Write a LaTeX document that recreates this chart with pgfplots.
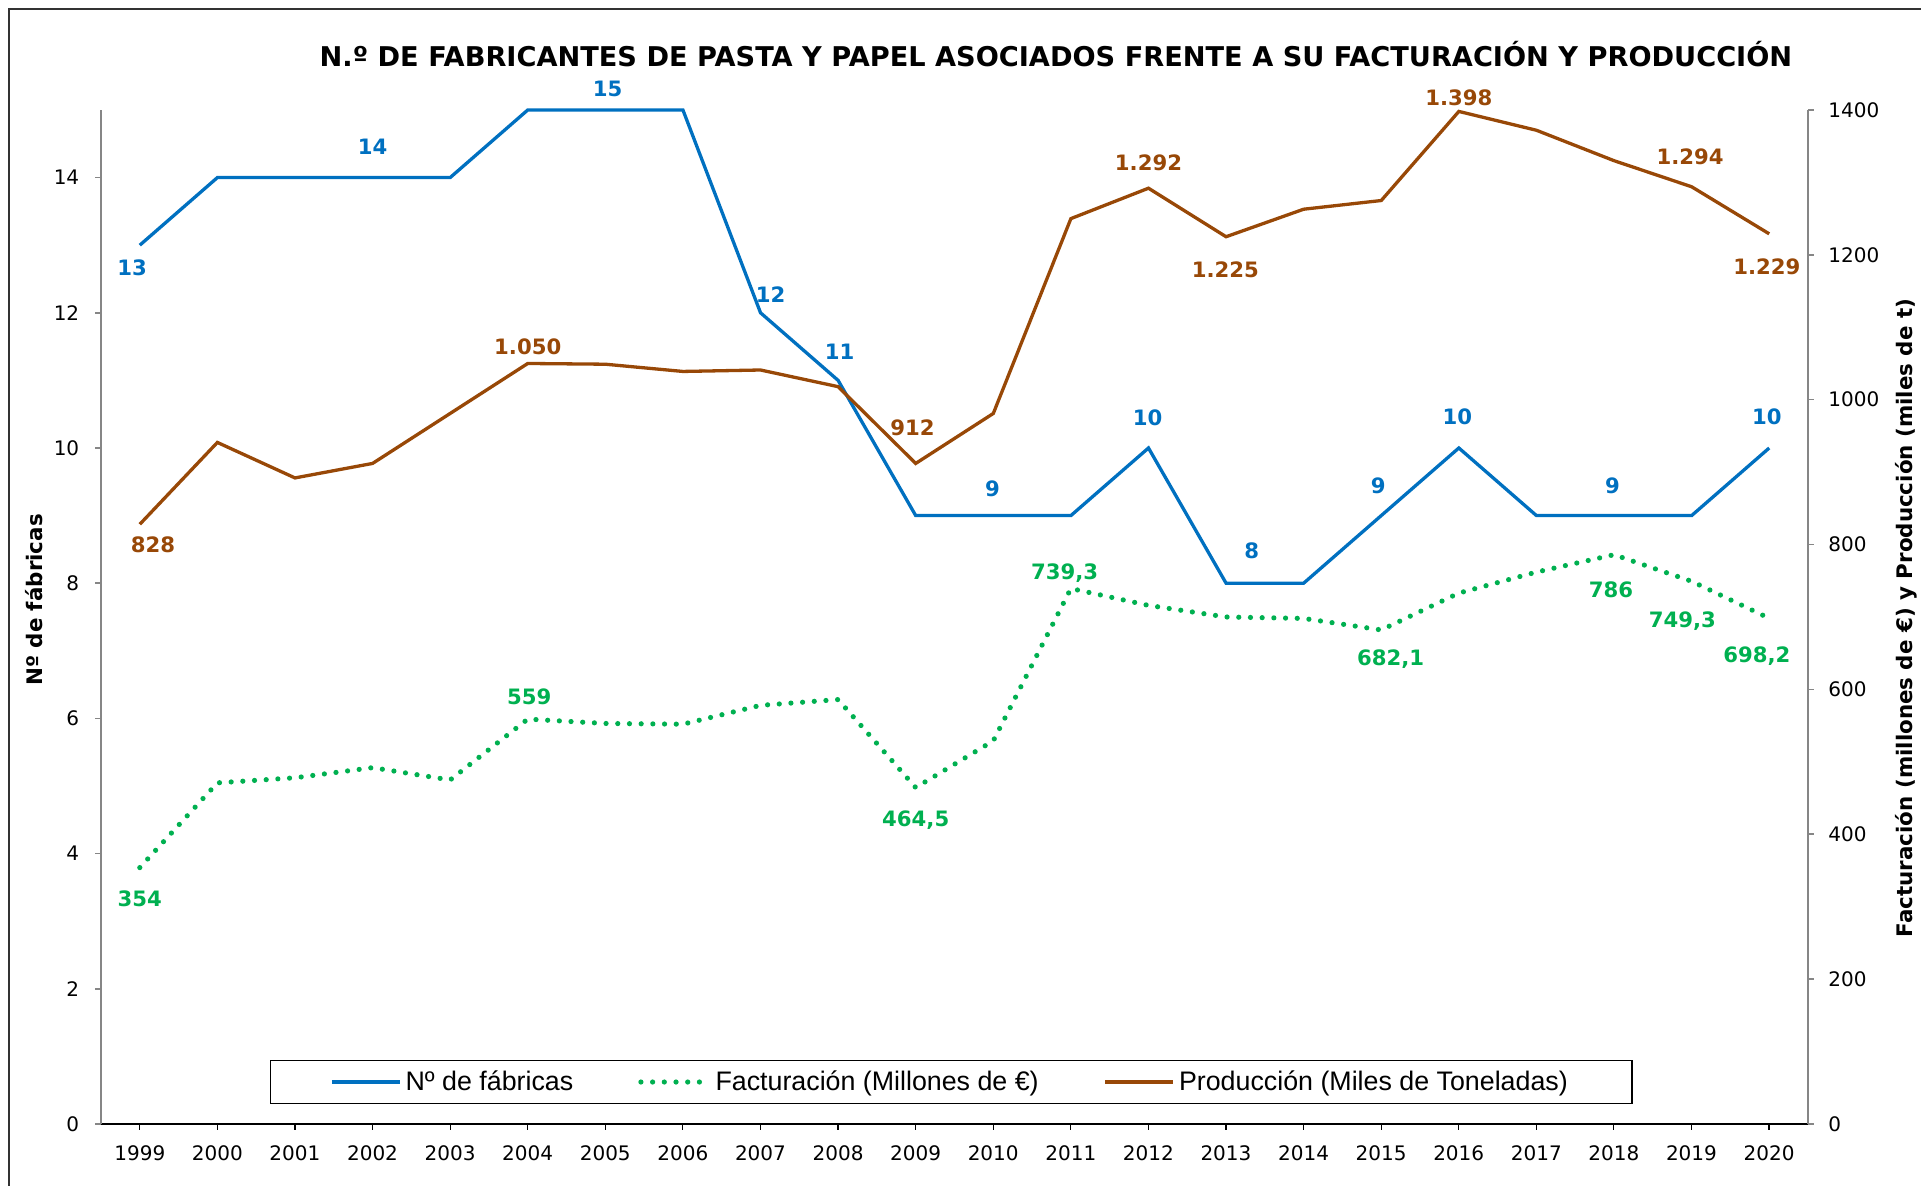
\documentclass[border=0pt]{standalone}
\usepackage{fontspec}
\setmainfont{DejaVu Sans}
\newfontfamily\legfont{Liberation Sans}
\usepackage{pgfplots}
\pgfplotsset{compat=1.18}
\definecolor{cblue}{HTML}{0070C0}
\definecolor{cbrown}{HTML}{984807}
\definecolor{cgreen}{HTML}{00B050}
\definecolor{axgray}{HTML}{868686}
\tikzset{
  fab/.style={cblue, line width=1.65pt},
  fact/.style={cgreen, line width=2.6pt, line cap=round, dash pattern=on 0pt off 5.85pt},
  prod/.style={cbrown, line width=1.65pt},
  dlab/.style={font=\fontsize{10.6}{12}\selectfont\bfseries, text depth=0pt, text height=7.7pt, inner sep=0pt, anchor=center},
}
\pgfplotsset{
  base/.style={
    scale only axis, width=853.5pt, height=507pt,
    xmin=1998.5, xmax=2020.5, ymin=0, clip=false,
    tick align=outside, major tick length=3pt,
    /pgf/number format/.cd, 1000 sep={}, assume math mode=true, /pgfplots/.cd,
    tick label style={font=\fontsize{10}{12}\selectfont, inner sep=0pt},
  },
}
\begin{document}
\begin{tikzpicture}
\begin{axis}[base,
  ymax=15,
  axis x line*=bottom, axis y line*=left,
  x axis line style={black, line width=0.75pt},
  y axis line style={axgray, line width=0.9pt},
  xtick={1999,...,2020}, ytick={0,2,...,14},
  xtick style={black, line width=0.6pt}, ytick style={axgray, line width=0.8pt},
  xticklabel style={yshift=-7.5pt},
  yticklabel style={xshift=-7.7pt},
  ylabel={Nº de fábricas},
  ylabel style={at={(axis description cs:-0.0392,0.5168)}, anchor=center, font=\fontsize{10.7}{12}\selectfont\bfseries},
]
\addplot[fab] coordinates {
(1999,13) (2000,14) (2001,14) (2002,14) (2003,14) (2004,15) (2005,15) (2006,15)
(2007,12) (2008,11) (2009,9) (2010,9) (2011,9) (2012,10) (2013,8) (2014,8)
(2015,9) (2016,10) (2017,9) (2018,9) (2019,9) (2020,10)
};
\begin{scope}[every node/.style={dlab, text=cblue}]
\node at (axis cs:1998.9,12.66) {13};
\node at (axis cs:2002,14.46) {14};
\node at (axis cs:2005.03,15.32) {15};
\node at (axis cs:2007.13,12.26) {12};
\node at (axis cs:2008.02,11.42) {11};
\node at (axis cs:2009.99,9.4) {9};
\node at (axis cs:2011.99,10.45) {10};
\node at (axis cs:2013.33,8.48) {8};
\node at (axis cs:2014.96,9.44) {9};
\node at (axis cs:2015.98,10.46) {10};
\node at (axis cs:2017.98,9.44) {9};
\node at (axis cs:2019.97,10.46) {10};
\end{scope}
\end{axis}
\begin{axis}[base,
  ymax=1400,
  axis x line=none, axis y line*=right,
  y axis line style={axgray, line width=0.9pt},
  ytick={0,200,...,1400},
  ytick style={axgray, line width=0.8pt},
  yticklabel style={xshift=7pt},
  ylabel={Facturación (millones de €) y Producción (miles de t)},
  ylabel style={at={(axis description cs:1.0574,0.499)}, anchor=center, font=\fontsize{10.7}{12}\selectfont\bfseries},
  legend columns=3,
  legend style={at={(0.498,0.0414)}, anchor=center, draw=black, line width=0.75pt,
    font=\legfont\fontsize{13.4}{15}\selectfont, inner xsep=30pt, inner ysep=3pt,
    /tikz/every even column/.append style={column sep=30.5pt}},
  legend image code/.code={\draw[#1] (0pt,0pt) -- (34pt,0pt);},
]
\addlegendimage{fab}
\addlegendentry{Nº de fábricas}
\addplot[fact] coordinates {
(1999,354) (2000,471) (2001,478) (2002,492) (2003,475) (2004,559) (2005,553) (2006,552)
(2007,578) (2008,586) (2009,464.5) (2010,529) (2011,739.3) (2012,716) (2013,700) (2014,698)
(2015,682.1) (2016,733) (2017,762) (2018,786) (2019,749.3) (2020,698.2)
};
\addlegendentry{Facturación (Millones de €)}
\addplot[prod] coordinates {
(1999,828) (2000,941) (2001,892) (2002,912) (2003,981) (2004,1050) (2005,1049) (2006,1039)
(2007,1041) (2008,1018) (2009,912) (2010,981) (2011,1250) (2012,1292) (2013,1225) (2014,1263)
(2015,1275) (2016,1398) (2017,1372) (2018,1330) (2019,1294) (2020,1229)
};
\addlegendentry{Producción (Miles de Toneladas)}
\begin{scope}[every node/.style={dlab, text=cbrown}]
\node at (axis cs:1999.17,799.4) {828};
\node at (axis cs:2004,1073.2) {1.050};
\node at (axis cs:2008.96,961.6) {912};
\node at (axis cs:2012,1326.4) {1.292};
\node at (axis cs:2012.99,1179.1) {1.225};
\node at (axis cs:2016,1417) {1.398};
\node at (axis cs:2018.98,1335.5) {1.294};
\node at (axis cs:2019.97,1183.6) {1.229};
\end{scope}
\begin{scope}[every node/.style={dlab, text=cgreen}]
\node at (axis cs:1999,311.6) {354};
\node at (axis cs:2004.02,590) {559};
\node at (axis cs:2009,422) {464,5};
\node at (axis cs:2010.92,762.5) {739,3};
\node at (axis cs:2015.12,644.3) {682,1};
\node at (axis cs:2017.96,738.2) {786};
\node at (axis cs:2018.88,696.8) {749,3};
\node at (axis cs:2019.84,647.5) {698,2};
\end{scope}
\end{axis}
\node[anchor=base, font=\fontsize{13.6}{15}\selectfont\bfseries] at (477.5pt,528.65pt)
  {N.º DE FABRICANTES DE PASTA Y PAPEL ASOCIADOS FRENTE A SU FACTURACIÓN Y PRODUCCIÓN};
\draw[black!80, line width=1pt] (-46.2pt,-40pt) -- (-46.2pt,557.35pt) -- (920pt,557.35pt);
\pgfresetboundingbox
\useasboundingbox (-50.5pt,-31pt) rectangle (910pt,562pt);
\end{tikzpicture}
\end{document}
